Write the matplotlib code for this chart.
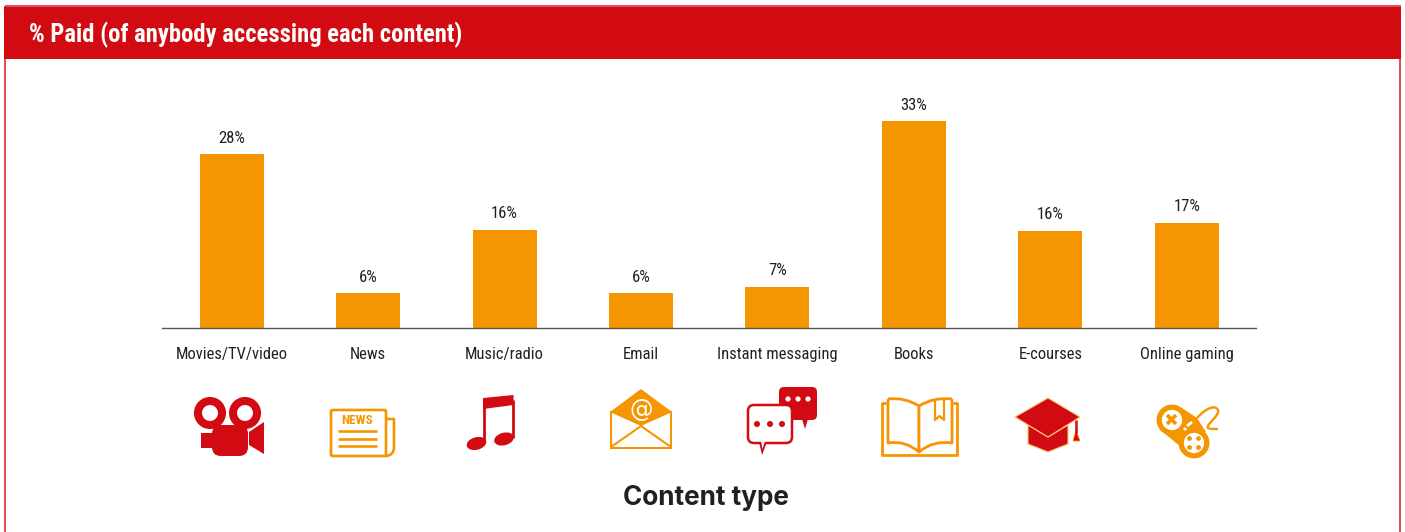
import matplotlib
matplotlib.use("Agg")
import matplotlib.pyplot as plt
from matplotlib.patches import Circle, Ellipse, FancyBboxPatch, PathPatch, Polygon, Rectangle
from matplotlib.path import Path

categories = ["Movies/TV/video", "News", "Music/radio", "Email", "Instant messaging",
              "Books", "E-courses", "Online gaming"]
paid_pct = [27.7, 5.6, 15.7, 5.6, 6.6, 33.0, 15.5, 16.8]

TITLE = "% Paid (of anybody accessing each content)"
XLABEL = "Content type"

RED = "#d20a11"
ORANGE = "#f59500"
INK = "#231f20"
W, H = 1405, 532

plt.rcParams["font.family"] = ["Roboto Condensed", "Liberation Sans Narrow", "Liberation Sans"]


def rbox(ax, x0, y0, x1, y1, r, **kw):
    ax.add_patch(FancyBboxPatch((x0 + r, y0 + r), x1 - x0 - 2 * r, y1 - y0 - 2 * r,
                                boxstyle=f"round,pad={r},rounding_size={r}", **kw))


def poly(ax, pts, **kw):
    kw.setdefault("lw", 0)
    ax.add_patch(Polygon(pts, closed=True, **kw))


def line(ax, xs, ys, color, lw=2.0):
    ax.plot(xs, ys, color=color, lw=lw, solid_capstyle="butt", solid_joinstyle="round")


def curve(ax, verts, codes, color, lw=1.6, fill="none"):
    ax.add_patch(PathPatch(Path(verts, codes), fc=fill, ec=color, lw=lw, joinstyle="round"))


def draw_camera(ax):
    for cx in (210, 245):
        ax.add_patch(Circle((cx, 413), 12, fc="white", ec=RED, lw=5.8))
    ax.add_patch(Rectangle((201, 433), 11, 15, fc=RED, lw=0))
    rbox(ax, 212, 425, 248, 456, 9, fc=RED, lw=0)
    poly(ax, [(249, 432), (264, 422), (264, 454), (249, 445)], fc=RED)


def draw_news(ax):
    M, L, C = Path.MOVETO, Path.LINETO, Path.CURVE3
    curve(ax, [(386, 419), (394, 419), (394, 447), (394, 456), (385, 456)], [M, L, L, C, C], ORANGE, 1.9)
    rbox(ax, 331, 410, 386, 456, 1.5, fc="white", ec=ORANGE, lw=1.9)
    ax.text(357, 421, "NEWS", color=ORANGE, fontsize=9.5, fontweight="bold", ha="center", va="center")
    for y in (431, 439, 446):
        line(ax, [338, 377], [y, y], ORANGE, 1.9)


def draw_music(ax):
    poly(ax, [(483, 398), (513.5, 395), (513.5, 405), (483, 409)], fc=RED)
    line(ax, [484, 484], [400, 443], RED, 2.0)
    line(ax, [512.5, 512.5], [400, 438], RED, 2.0)
    ax.add_patch(Ellipse((476.5, 443.5), 20, 12.5, angle=-15, fc=RED, lw=0))
    ax.add_patch(Ellipse((504, 439), 20, 12.5, angle=-15, fc=RED, lw=0))


def draw_email(ax):
    poly(ax, [(611, 412), (611, 448), (671, 448), (671, 412)], fc="white", ec=ORANGE, lw=1.5)
    poly(ax, [(610, 412), (641, 389), (672, 412), (641, 426)], fc=ORANGE)
    line(ax, [611, 641, 671], [447, 426, 447], ORANGE, 1.5)
    ax.text(641, 410, "@", color="white", fontsize=17, family="DejaVu Sans", ha="center", va="center")


def draw_chat(ax):
    rbox(ax, 779, 387, 817, 420, 5, fc=RED, lw=0)
    poly(ax, [(802, 419), (805, 429), (808, 419)], fc=RED)
    for x in (788, 798, 808):
        ax.add_patch(Circle((x, 399), 2.6, fc="white", lw=0))
    poly(ax, [(759, 442), (762, 455), (767, 442)], fc=RED)
    rbox(ax, 748, 405, 792, 443, 6, fc="white", ec=RED, lw=1.8)
    poly(ax, [(761, 441), (762.5, 449), (765, 441)], fc="white")
    for x in (757, 770, 782):
        ax.add_patch(Circle((x, 424), 3, fc=RED, lw=0))


def draw_book(ax):
    M, L, C = Path.MOVETO, Path.LINETO, Path.CURVE3
    curve(ax, [(886, 403), (882, 403), (882, 455), (957, 455), (957, 403), (953, 403)],
          [M, L, L, L, L, L], ORANGE, 2.0)
    curve(ax, [(888, 399), (905, 397), (919, 406), (919, 452), (905, 440), (888, 443), (888, 399)],
          [M, C, C, L, C, C, L], ORANGE, 2.0, fill="white")
    curve(ax, [(952, 399), (933, 397), (919, 406), (919, 452), (933, 440), (952, 443), (952, 399)],
          [M, C, C, L, C, C, L], ORANGE, 2.0, fill="white")
    curve(ax, [(935, 399), (935, 420), (939.5, 416), (944, 420), (944, 399)], [M, L, L, L, L], ORANGE, 1.6)


def draw_cap(ax):
    edge = "#fbc773"
    poly(ax, [(1028, 425), (1028, 444), (1048, 452), (1068, 444), (1068, 425), (1048, 437)],
         fc=RED, ec=edge, lw=0.8)
    poly(ax, [(1015, 417), (1048, 398), (1080, 417), (1048, 437)], fc=RED, ec=edge, lw=0.8)
    line(ax, [1076, 1076], [420, 433], RED, 1.8)
    poly(ax, [(1073, 441), (1076, 430), (1080, 441)], fc=RED, ec=ORANGE, lw=0.6)


def draw_gamepad(ax):
    M, C = Path.MOVETO, Path.CURVE4
    poly(ax, [(1182, 408), (1197, 418), (1206, 432), (1181, 447), (1164, 433)], fc=ORANGE)
    curve(ax, [(1197, 418), (1205, 409), (1215, 404), (1218, 410),
               (1220, 416), (1205, 425), (1208, 428), (1210, 429), (1214, 429), (1218, 429)],
          [M, C, C, C, C, C, C, C, C, C], ORANGE, 1.7)
    for cx, cy in ((1172, 420), (1194, 443)):
        ax.add_patch(Circle((cx, cy), 12.8, fc="white", ec=ORANGE, lw=3.8))
    line(ax, [1167, 1176], [415, 424], ORANGE, 2.6)
    line(ax, [1176, 1167], [415, 424], ORANGE, 2.6)
    for dx, dy in ((-4.5, -4.5), (4.5, -4.5), (-4.5, 4.5), (4.5, 4.5)):
        ax.add_patch(Circle((1194 + dx, 443 + dy), 2.4, fc=ORANGE, lw=0))
    ax.add_patch(Circle((1185, 429), 1.6, fc="white", lw=0))
    line(ax, [1187, 1192], [426, 422], "white", 2.0)


icons = [draw_camera, draw_news, draw_music, draw_email, draw_chat, draw_book, draw_cap, draw_gamepad]

fig = plt.figure(figsize=(W / 100, H / 100), dpi=100, facecolor="white")

# page furniture and icons live in a pixel-space overlay
bg = fig.add_axes([0, 0, 1, 1])
bg.set_xlim(0, W)
bg.set_ylim(H, 0)
bg.axis("off")
bg.add_patch(Rectangle((5, 6), 1394.5, 540, fc="none", ec="#d9404a", lw=1.3))
bg.add_patch(Rectangle((4, 6.5), 1397, 52.5, fc=RED, lw=0))
bg.text(29, 34.5, TITLE, color="white", fontsize=17.7, fontweight="bold", va="center", ha="left")
bg.text(706, 498, XLABEL, color=INK, fontsize=18.8, fontweight="bold", ha="center", va="center",
        family=["Inter", "Lato", "Noto Sans"])
for draw in icons:
    draw(bg)

ax = fig.add_axes([162 / W, (H - 328) / H, 1094 / W, 238 / H])
ax.patch.set_alpha(0)
xs = list(range(len(categories)))
bars = ax.bar(xs, paid_pct, width=0.469, color=ORANGE)
ax.bar_label(bars, labels=[f"{v:.0f}%" for v in paid_pct], padding=6, fontsize=12, color=INK)
ax.set_xlim(-0.511, 7.508)
ax.set_ylim(0, 37.96)
ax.set_xticks(xs, categories, fontsize=11.9, color=INK)
ax.tick_params(axis="x", length=0, pad=14)
ax.yaxis.set_visible(False)
for side in ("top", "left", "right"):
    ax.spines[side].set_visible(False)
ax.spines["bottom"].set_color("#58595b")
ax.spines["bottom"].set_linewidth(1.0)

fig.savefig("out.png", dpi=100)
